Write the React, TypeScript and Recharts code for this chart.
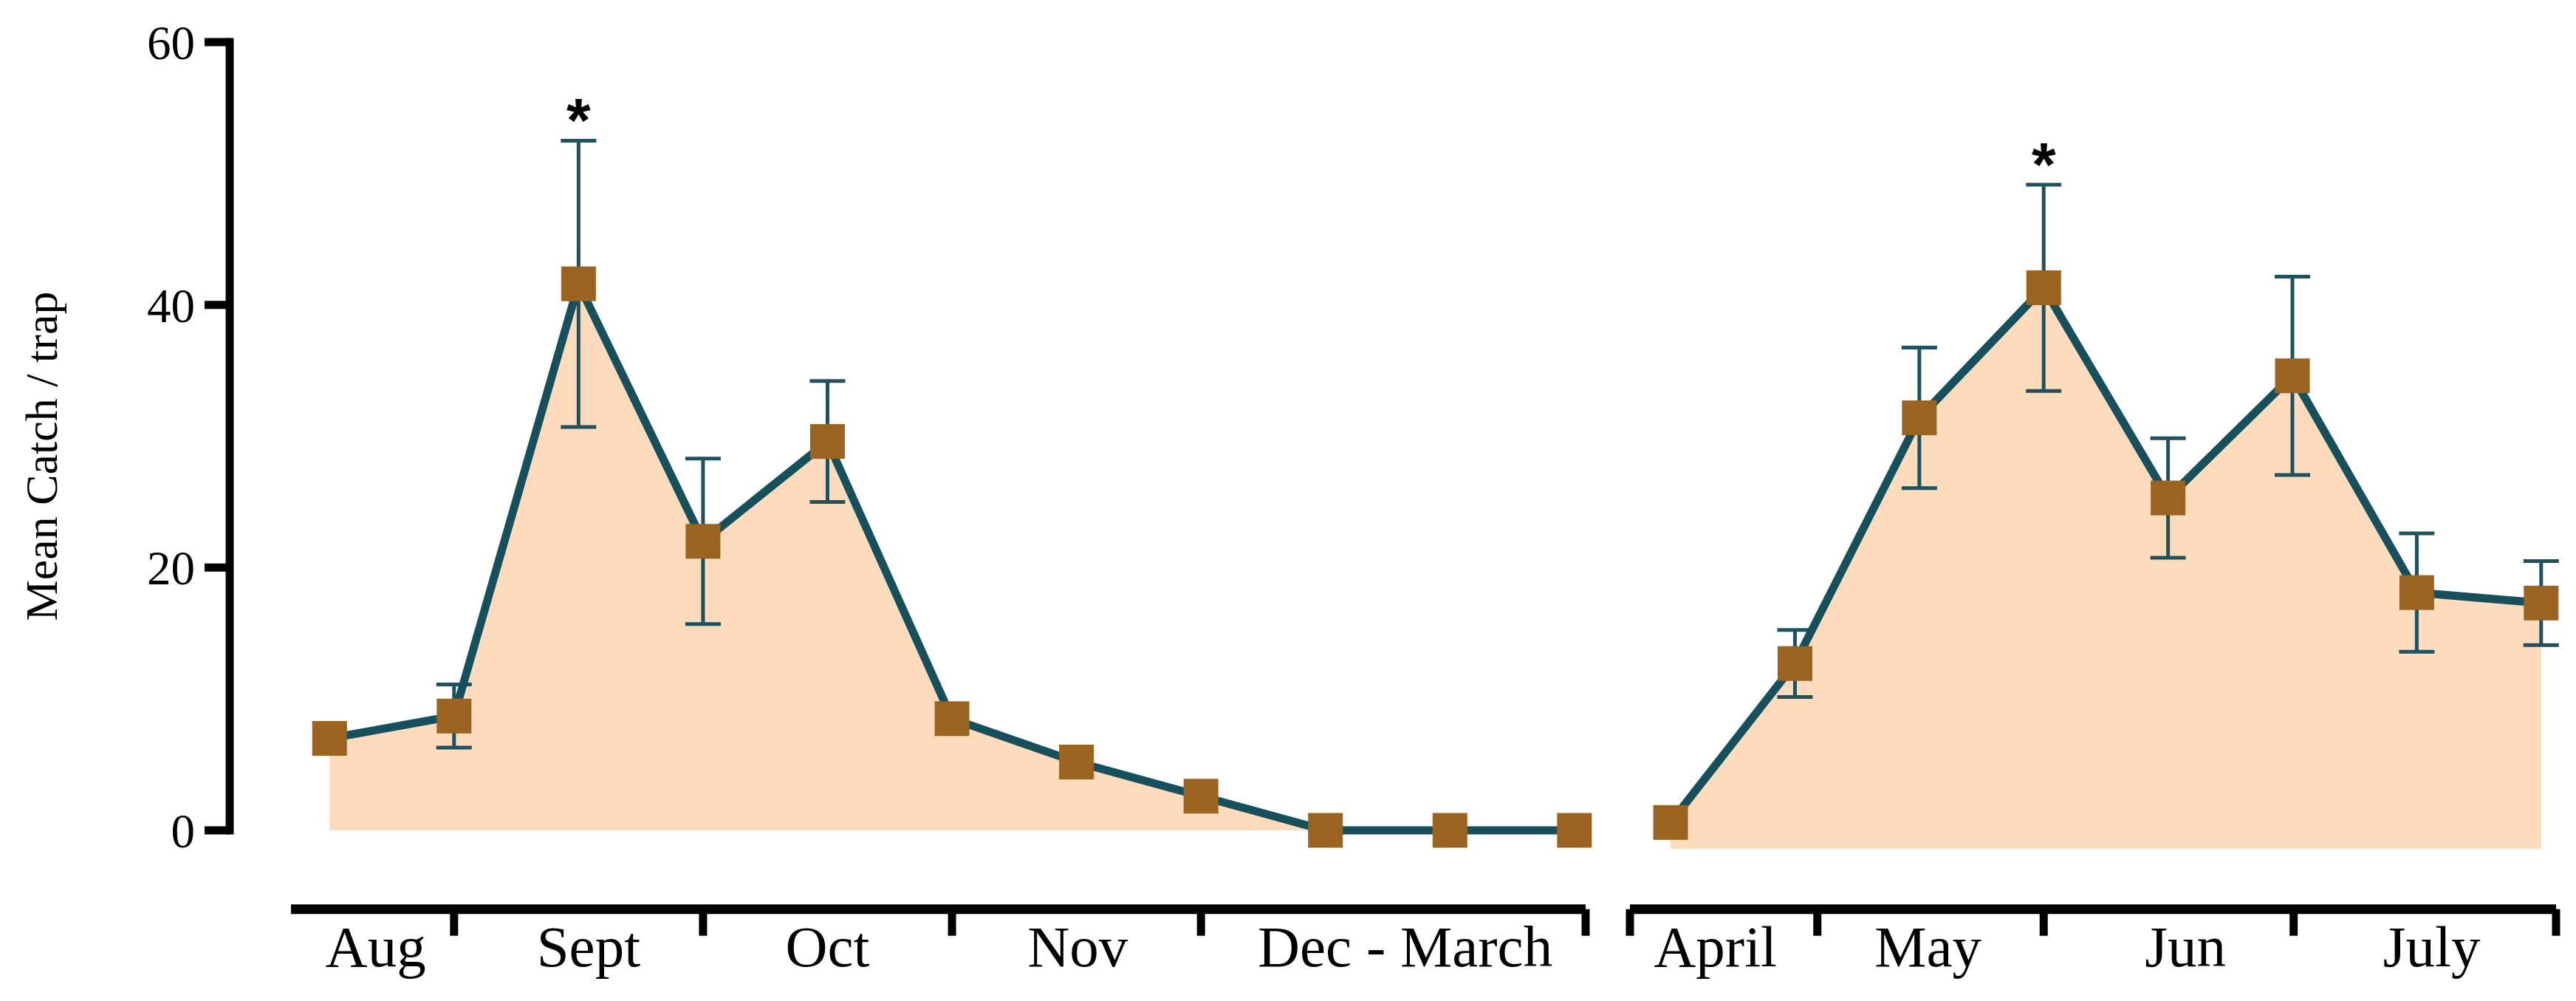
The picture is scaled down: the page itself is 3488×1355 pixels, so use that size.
import React from 'react';
import { ComposedChart, Line, Area, XAxis, YAxis, ErrorBar, Scatter } from 'recharts';

// ---- data ----
const leftMeans = [7.0, 8.7, 41.6, 22.0, 29.6, 8.5, 5.2, 2.6, 0, 0, 0];
const leftErrs = [0, 2.4, 10.9, 6.3, 4.6, 0, 0, 0, 0, 0, 0];
const leftStars = [false, false, true, false, false, false, false, false, false, false, false];

const rightMeans = [0.6, 12.7, 31.4, 41.3, 25.3, 34.6, 18.1, 17.3];
const rightErrs = [0, 2.55, 5.35, 7.85, 4.55, 7.55, 4.5, 3.2];
const rightStars = [false, false, false, true, false, false, false, false];

const yTicks = [0, 20, 40, 60];

const leftMonthLabels = ['Aug', 'Sept', 'Oct', 'Nov', 'Dec - March'];
const leftMonthPos = [0.37, 2.08, 4.0, 6.01, 8.64];
const leftBoundaries = [1, 3, 5, 7, 10.09];
const leftDomain = [-0.31, 10.09];

const rightMonthLabels = ['April', 'May', 'Jun', 'July'];
const rightMonthPos = [0.36, 2.07, 4.14, 6.12];
const rightBoundaries = [-0.327, 1.18, 3.0, 5.01, 7.12];
const rightDomain = [-0.327, 7.12];
const rightBase = -1.4;

// ---- styling ----
const TEAL = '#16505c';
const TEAL_E = '#1f525e';
const BROWN = '#9a6420';
const FILL = '#fddcbd';
const SERIF = '"Liberation Serif", "Times New Roman", serif';
const H = 1339;
const TOP = 49;
const PX_PER_UNIT = 1067 / 60;
const DATA_DOMAIN = [-6, 60];
const XAXIS_H = 100;
const DATA_BOTTOM = H - TOP - (DATA_DOMAIN[1] - DATA_DOMAIN[0]) * PX_PER_UNIT - XAXIS_H;

const build = (means: number[], errs: number[]) =>
  means.map((m, i) => ({ idx: i, mean: m, err: errs[i] ? errs[i] : null }));
const buildStars = (means: number[], errs: number[], stars: boolean[]) =>
  means.map((m, i) => ({ idx: i, top: m + errs[i] })).filter((_, i) => stars[i]);

const leftData = build(leftMeans, leftErrs);
const rightData = build(rightMeans, rightErrs);
const leftStarData = buildStars(leftMeans, leftErrs, leftStars);
const rightStarData = buildStars(rightMeans, rightErrs, rightStars);

const SquareDot = (props: any) => {
  const { cx, cy, index } = props;
  if (cx == null || cy == null) return <g key={`e${index}`} />;
  return <rect key={`d${index}`} x={cx - 23.5} y={cy - 23.5} width={47} height={47} fill={BROWN} />;
};

const Star = (props: any) => (
  <text
    x={props.cx}
    y={props.cy + 2}
    textAnchor="middle"
    fontFamily='"Liberation Sans", Arial, sans-serif'
    fontWeight="bold"
    fontSize={84}
    fill="#000"
  >
    *
  </text>
);

const makeTick = (bounds: number[], labels: string[], pos: number[]) => (props: any) => {
  const { x, y, payload } = props;
  const v = payload.value;
  const bi = bounds.findIndex((b) => Math.abs(b - v) < 1e-6);
  if (bi >= 0) {
    return <line x1={x} x2={x} y1={y} y2={y + 36} stroke="#000" strokeWidth={11} />;
  }
  const li = pos.findIndex((p) => Math.abs(p - v) < 1e-6);
  if (li >= 0) {
    return (
      <text x={x} y={y + 77} textAnchor="middle" fontFamily={SERIF} fontSize={79} fill="#000">
        {labels[li]}
      </text>
    );
  }
  return <g />;
};

const YLabel = (props: any) => {
  const vb = props.viewBox ?? { x: 0, y: TOP, width: 303, height: 1067 };
  const x = vb.x + 48;
  const y = vb.y + vb.height / 2 + 27;
  return (
    <text
      x={x}
      y={y}
      transform={`rotate(-90 ${x} ${y})`}
      textAnchor="middle"
      dominantBaseline="central"
      fontFamily={SERIF}
      fontSize={62}
      fill="#000"
    >
      Mean Catch / trap
    </text>
  );
};

function Panel(p: any) {
  return (
    <div style={{ position: 'absolute', left: p.left, top: 0 }}>
      <ComposedChart
        width={p.width}
        height={H}
        data={p.data}
        margin={{ top: TOP, right: p.marginRight, bottom: DATA_BOTTOM, left: p.marginLeft }}
      >
        <XAxis
          dataKey="idx"
          type="number"
          domain={p.domain}
          ticks={[...p.bounds, ...p.pos]}
          interval={0}
          tickSize={0}
          tickMargin={0}
          tickLine={false}
          axisLine={{ stroke: '#000', strokeWidth: 13 }}
          tick={makeTick(p.bounds, p.labels, p.pos)}
          height={XAXIS_H}
        />
        <YAxis hide type="number" domain={DATA_DOMAIN} />
        <Area
          dataKey="mean"
          type="linear"
          fill={FILL}
          fillOpacity={1}
          stroke="none"
          baseValue={p.baseValue}
          isAnimationActive={false}
          activeDot={false}
        />
        <Line
          dataKey="mean"
          type="linear"
          stroke={TEAL}
          strokeWidth={11}
          dot={SquareDot}
          activeDot={false}
          isAnimationActive={false}
        >
          <ErrorBar dataKey="err" width={24} strokeWidth={5} stroke={TEAL_E} direction="y" />
        </Line>
        <Scatter data={p.stars} dataKey="top" shape={Star} isAnimationActive={false} />
      </ComposedChart>
    </div>
  );
}

export default function App() {
  return (
    <div style={{ position: 'relative', width: 3472, height: H, background: '#fff' }}>
      <div style={{ position: 'absolute', left: 0, top: 0 }}>
        <ComposedChart
          width={340}
          height={H}
          data={leftData}
          margin={{ top: TOP, right: 30, left: 0, bottom: H - TOP - 1067 }}
        >
          <XAxis dataKey="idx" type="number" hide domain={leftDomain} />
          <YAxis
            type="number"
            domain={[0, 60]}
            ticks={yTicks}
            interval={0}
            width={303}
            tickSize={34}
            tickMargin={13}
            axisLine={{ stroke: '#000', strokeWidth: 11, strokeLinecap: 'square' }}
            tickLine={{ stroke: '#000', strokeWidth: 11 }}
            tick={{ fontSize: 65, fill: '#000', fontFamily: SERIF }}
            label={<YLabel />}
          />
          <Line dataKey="mean" stroke="none" dot={false} activeDot={false} isAnimationActive={false} />
        </ComposedChart>
      </div>
      <Panel
        left={330}
        width={1839}
        marginLeft={56}
        marginRight={30}
        data={leftData}
        stars={leftStarData}
        domain={leftDomain}
        bounds={leftBoundaries}
        labels={leftMonthLabels}
        pos={leftMonthPos}
      />
      <Panel
        left={2170}
        width={1298}
        marginLeft={29}
        marginRight={15}
        data={rightData}
        stars={rightStarData}
        domain={rightDomain}
        bounds={rightBoundaries}
        labels={rightMonthLabels}
        pos={rightMonthPos}
        baseValue={rightBase}
      />
    </div>
  );
}
